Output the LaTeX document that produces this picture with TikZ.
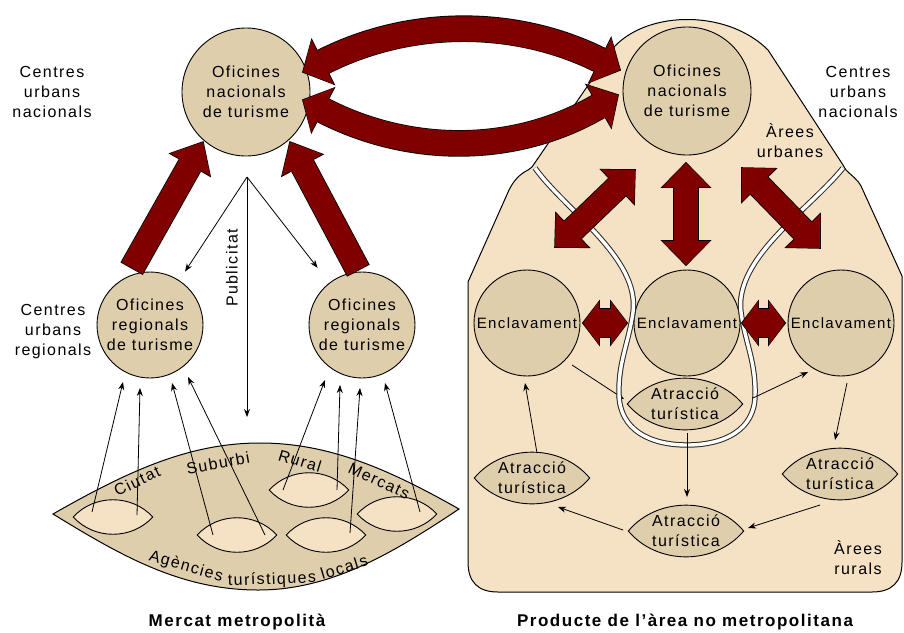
\documentclass[tikz,border=0pt]{standalone}
\usepackage{fontspec}
\setmainfont{Liberation Sans}[LetterSpace=9]
\usetikzlibrary{arrows.meta,calc}
\definecolor{panelfill}{RGB}{245,226,196}
\definecolor{circfill}{RGB}{222,206,172}
\definecolor{arrred}{RGB}{128,0,0}
\begin{document}
\begin{tikzpicture}[x=1pt,y=-1pt,
  font=\fontsize{16}{20}\selectfont,
  circ/.style={circle,draw=black,line width=0.9pt,fill=circfill,minimum size=#1,inner sep=0pt,align=center},
  lens/.style n args={4}{minimum width=#1,minimum height=#2,inner sep=0pt,align=center,
    path picture={\draw[fill=#4,line width=0.9pt,draw=black]
      ([xshift=0.8pt]path picture bounding box.west) to[bend left=#3]
      ([xshift=-0.8pt]path picture bounding box.east) to[bend left=#3] cycle;}},
  lbl/.style={align=center,inner sep=0pt},
  thinarr/.style={draw=black,line width=0.8pt,-{Stealth[length=8pt,width=6pt]}},
  road/.style={draw=black!85,line width=1pt,double=white,double distance=3.4pt},
  arcarrow/.style={draw=arrred,line width=25pt,
    {Triangle[length=22pt,width=50pt,line width=0pt]}-{Triangle[length=22pt,width=50pt,line width=0pt]},
    preaction={draw=black,line width=26.6pt,shorten >=-1.1pt,shorten <=-1.1pt,
      {Triangle[length=24pt,width=53pt,line width=0pt]}-{Triangle[length=24pt,width=53pt,line width=0pt]}}},
  risearrow/.style={draw=arrred,line width=24pt,
    -{Triangle[length=26pt,width=46pt,line width=0pt]},
    preaction={draw=black,line width=25.6pt,shorten >=-1.1pt,shorten <=-0.8pt,
      -{Triangle[length=28pt,width=49pt,line width=0pt]}}},
  dblarrow/.style={draw=arrred,line width=24pt,
    {Triangle[length=24pt,width=48pt,line width=0pt]}-{Triangle[length=24pt,width=48pt,line width=0pt]},
    preaction={draw=black,line width=25.6pt,shorten >=-1.1pt,shorten <=-1.1pt,
      {Triangle[length=26pt,width=51pt,line width=0pt]}-{Triangle[length=26pt,width=51pt,line width=0pt]}}},
  smallarrow/.style={draw=arrred,line width=28pt,
    {Triangle[length=16pt,width=44pt,line width=0pt]}-{Triangle[length=16pt,width=44pt,line width=0pt]},
    preaction={draw=black,line width=29.6pt,shorten >=-1.1pt,shorten <=-1.1pt,
      {Triangle[length=18pt,width=47pt,line width=0pt]}-{Triangle[length=18pt,width=47pt,line width=0pt]}}},
]
\useasboundingbox (0,0) rectangle (904,632);
\fill[white] (0,0) rectangle (904,632);

% right panel background
\draw[fill=panelfill,line width=1pt] (532,167) -- (615,46) .. controls (650,10) and (728,10) .. (768,50)
  -- (843,165) -- (846,170) .. controls (852,176) and (858,180) .. (861,186) -- (902,276) -- (902,562)
  .. controls (902,582) and (892,592) .. (872,592) -- (498,592) .. controls (478,592) and (468,582) .. (468,562)
  -- (468,282) -- (509,190) .. controls (514,180) and (520,174) .. (528,170) -- cycle;

% big lens (local agencies)
\draw[fill=circfill,line width=1pt] (53,514) .. controls (130,470) and (190,443) .. (260,443)
  .. controls (330,443) and (390,470) .. (459,509)
  .. controls (390,555) and (330,590) .. (258,590)
  .. controls (180,590) and (120,555) .. (53,514) -- cycle;

% circles
\node[circ=128pt] (nat1) at (246,92) {Oficines\\nacionals\\de turisme};
\node[circ=128pt] (nat2) at (687,91) {Oficines\\nacionals\\de turisme};
\node[circ=106pt] (reg1) at (150,325) {Oficines\\regionals\\de turisme};
\node[circ=106pt] (reg2) at (362,325) {Oficines\\regionals\\de turisme};
\node[circ=106pt,font=\fontsize{15}{18}\selectfont] (enc1) at (527,323) {Enclavament};
\node[circ=106pt,font=\fontsize{15}{18}\selectfont] (enc2) at (687,323) {Enclavament};
\node[circ=106pt,font=\fontsize{15}{18}\selectfont] (enc3) at (841,323) {Enclavament};

% attraction lenses
\node[lens={117pt}{56pt}{50}{circfill}] (at1) at (685,404) {Atracció\\turística};
\node[lens={117pt}{56pt}{50}{circfill}] (at2) at (686,531) {Atracció\\turística};
\node[lens={117pt}{56pt}{50}{circfill}] (at3) at (532,478) {Atracció\\turística};
\node[lens={117pt}{56pt}{50}{circfill}] (at4) at (840,474) {Atracció\\turística};

% small local lenses
\node[lens={81pt}{40pt}{48}{panelfill}] (l1) at (113,517) {};
\node[lens={81pt}{40pt}{48}{panelfill}] (l2) at (237,535) {};
\node[lens={81pt}{40pt}{48}{panelfill}] (l3) at (309,490) {};
\node[lens={81pt}{40pt}{48}{panelfill}] (l4) at (326,535) {};
\node[lens={81pt}{40pt}{48}{panelfill}] (l5) at (397,514) {};

% arrow hidden under the road
\draw[thinarr] ([shift={(45,42)}]enc1.center) -- ([shift={(-61,-5)}]at1.center);

% road (urban boundary)
\draw[road] (535,168) .. controls (565,210) and (640,258) .. (633,312)
  .. controls (629,342) and (618,362) .. (619,395)
  .. controls (620,430) and (650,445) .. (687,445)
  .. controls (724,445) and (755,430) .. (755,395)
  .. controls (756,362) and (745,342) .. (741,312)
  .. controls (734,258) and (809,210) .. (843,168);

% labels
\node[lbl] (cun1) at (52,92) {Centres\\urbans\\nacionals};
\node[lbl] (cur) at (53,332) {Centres\\urbans\\regionals};
\node[lbl] (cun2) at (858,92) {Centres\\urbans\\nacionals};
\node[lbl] (aurb) at (790,141) {Àrees\\urbanes};
\node[lbl] (arur) at (858,558) {Àrees\\rurals};
\node[lbl,rotate=90] (pubtxt) at (232,268) {Publicitat};
\node[lbl,rotate=26] (tciu) at (137,481) {Ciutat};
\node[lbl,rotate=10] (tsub) at (218,463) {Suburbi};
\node[lbl,rotate=-17] (trur) at (300,461) {Rural};
\node[lbl,rotate=-25] (tmer) at (379,481) {Mercats};
\node[lbl,rotate=-16] (tag1) at (186,567) {Agències};
\node[lbl,rotate=2] (tag2) at (272,580) {turístiques};
\node[lbl,rotate=17] (tag3) at (344,567) {locals};
\node[lbl,font=\bfseries\fontsize{17}{20}\selectfont] (cap1) at (237,622) {Mercat metropolità};
\node[lbl,font=\bfseries\fontsize{17}{20}\selectfont] (cap2) at (685,622) {Producte de l'àrea no metropolitana};

% big dark red arrows
\draw[arcarrow] ([shift={(57,-20)}]nat1.center) .. controls (410,18) and (515,18) .. ([shift={(-67,-21)}]nat2.center);
\draw[arcarrow] ([shift={(57,8)}]nat1.center) .. controls (410,155) and (515,155) .. ([shift={(-69,4)}]nat2.center);
\draw[risearrow] ([shift={(-18,-57)}]reg1.center) -- ([shift={(-43,50)}]nat1.center);
\draw[risearrow] ([shift={(-4,-55)}]reg2.center) -- ([shift={(44,50)}]nat1.center);
\draw[dblarrow] ([shift={(28,-76)}]enc1.center) -- ([shift={(-52,79)}]nat2.center);
\draw[dblarrow] ([shift={(-1,-58)}]enc2.center) -- ([shift={(-1,72)}]nat2.center);
\draw[dblarrow] ([shift={(-21,-75)}]enc3.center) -- ([shift={(55,77)}]nat2.center);
\draw[smallarrow] ([shift={(56,0)}]enc1.center) -- ([shift={(-60,0)}]enc2.center);
\draw[smallarrow] ([shift={(55,0)}]enc2.center) -- ([shift={(-56,0)}]enc3.center);

% publicity arrows
\coordinate (pub) at (247,177);
\coordinate (pubend) at (247,417);
\draw[thinarr] (pub) -- ($(pub)!113pt!(reg1)$);
\draw[thinarr] (pub) -- ($(pub)!115pt!(reg2)$);
\draw[thinarr] (pub) -- (pubend);

% local agencies to regional offices
\draw[thinarr] ([shift={(-21,-5)}]l1.center) -- ([shift={(-27,57)}]reg1.center);
\draw[thinarr] ([shift={(24,-2)}]l1.center) -- ([shift={(-10,63)}]reg1.center);
\draw[thinarr] ([shift={(-24,0)}]l2.center) -- ([shift={(22,58)}]reg1.center);
\draw[thinarr] ([shift={(28,0)}]l2.center) -- ([shift={(38,52)}]reg1.center);
\draw[thinarr] ([shift={(-26,0)}]l3.center) -- ([shift={(-37,55)}]reg2.center);
\draw[thinarr] ([shift={(28,0)}]l3.center) -- ([shift={(-22,60)}]reg2.center);
\draw[thinarr] ([shift={(24,-2)}]l4.center) -- ([shift={(-2,63)}]reg2.center);
\draw[thinarr] ([shift={(23,-2)}]l5.center) -- ([shift={(23,58)}]reg2.center);

% rural circuit
\draw[thinarr] ([shift={(68,-6)}]at1.center) -- ([shift={(-33,49)}]enc3.center);
\draw[thinarr] ([shift={(6,60)}]enc3.center) -- ([shift={(-5,-34)}]at4.center);
\draw[thinarr] ([shift={(-20,31)}]at4.center) -- ([shift={(62,-3)}]at2.center);
\draw[thinarr] ([shift={(-63,-1)}]at2.center) -- ([shift={(26,29)}]at3.center);
\draw[thinarr] ([shift={(5,-25)}]at3.center) -- ([shift={(-2,60)}]enc1.center);
\draw[thinarr] ([shift={(2,29)}]at1.center) -- ([shift={(1,-34)}]at2.center);
\end{tikzpicture}
\end{document}
